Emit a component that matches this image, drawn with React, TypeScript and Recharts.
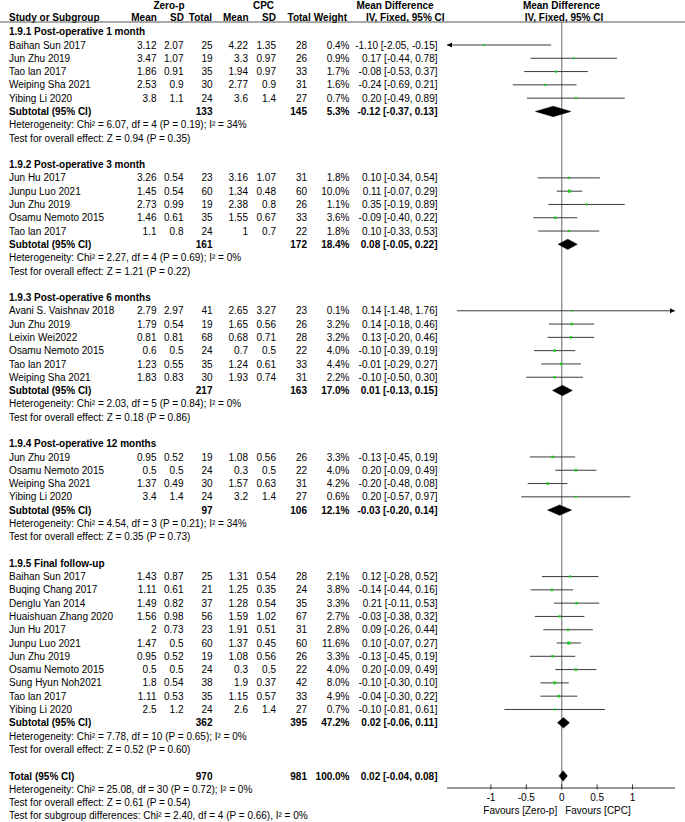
import React from "react";
import { ScatterChart, Scatter, XAxis, YAxis, ReferenceLine, ReferenceDot } from "recharts";

type Study = [string, number, number, number, number, number, number, number, number, number, number];
// [name, zero-p mean, zero-p SD, zero-p total, CPC mean, CPC SD, CPC total, weight %, MD, lower, upper]
type Summary = [number, number, number, number, number, number];
// [zero-p total, CPC total, weight %, MD, lower, upper]

const month1Studies: Study[] = [
  ["Baihan Sun 2017", 3.12, 2.07, 25, 4.22, 1.35, 28, 0.4, -1.1, -2.05, -0.15],
  ["Jun Zhu 2019", 3.47, 1.07, 19, 3.3, 0.97, 26, 0.9, 0.17, -0.44, 0.78],
  ["Tao lan 2017", 1.86, 0.91, 35, 1.94, 0.97, 33, 1.7, -0.08, -0.53, 0.37],
  ["Weiping Sha 2021", 2.53, 0.9, 30, 2.77, 0.9, 31, 1.6, -0.24, -0.69, 0.21],
  ["Yibing Li 2020", 3.8, 1.1, 24, 3.6, 1.4, 27, 0.7, 0.2, -0.49, 0.89],
];
const month1Subtotal: Summary = [133, 145, 5.3, -0.12, -0.37, 0.13];
const month1Notes = ["Heterogeneity: Chi\u00b2 = 6.07, df = 4 (P = 0.19); I\u00b2 = 34%", "Test for overall effect: Z = 0.94 (P = 0.35)"];

const month3Studies: Study[] = [
  ["Jun Hu 2017", 3.26, 0.54, 23, 3.16, 1.07, 31, 1.8, 0.1, -0.34, 0.54],
  ["Junpu Luo 2021", 1.45, 0.54, 60, 1.34, 0.48, 60, 10.0, 0.11, -0.07, 0.29],
  ["Jun Zhu 2019", 2.73, 0.99, 19, 2.38, 0.8, 26, 1.1, 0.35, -0.19, 0.89],
  ["Osamu Nemoto 2015", 1.46, 0.61, 35, 1.55, 0.67, 33, 3.6, -0.09, -0.4, 0.22],
  ["Tao lan 2017", 1.1, 0.8, 24, 1, 0.7, 22, 1.8, 0.1, -0.33, 0.53],
];
const month3Subtotal: Summary = [161, 172, 18.4, 0.08, -0.05, 0.22];
const month3Notes = ["Heterogeneity: Chi\u00b2 = 2.27, df = 4 (P = 0.69); I\u00b2 = 0%", "Test for overall effect: Z = 1.21 (P = 0.22)"];

const month6Studies: Study[] = [
  ["Avani S. Vaishnav 2018", 2.79, 2.97, 41, 2.65, 3.27, 23, 0.1, 0.14, -1.48, 1.76],
  ["Jun Zhu 2019", 1.79, 0.54, 19, 1.65, 0.56, 26, 3.2, 0.14, -0.18, 0.46],
  ["Leixin Wei2022", 0.81, 0.81, 68, 0.68, 0.71, 28, 3.2, 0.13, -0.2, 0.46],
  ["Osamu Nemoto 2015", 0.6, 0.5, 24, 0.7, 0.5, 22, 4.0, -0.1, -0.39, 0.19],
  ["Tao lan 2017", 1.23, 0.55, 35, 1.24, 0.61, 33, 4.4, -0.01, -0.29, 0.27],
  ["Weiping Sha 2021", 1.83, 0.83, 30, 1.93, 0.74, 31, 2.2, -0.1, -0.5, 0.3],
];
const month6Subtotal: Summary = [217, 163, 17.0, 0.01, -0.13, 0.15];
const month6Notes = ["Heterogeneity: Chi\u00b2 = 2.03, df = 5 (P = 0.84); I\u00b2 = 0%", "Test for overall effect: Z = 0.18 (P = 0.86)"];

const month12Studies: Study[] = [
  ["Jun Zhu 2019", 0.95, 0.52, 19, 1.08, 0.56, 26, 3.3, -0.13, -0.45, 0.19],
  ["Osamu Nemoto 2015", 0.5, 0.5, 24, 0.3, 0.5, 22, 4.0, 0.2, -0.09, 0.49],
  ["Weiping Sha 2021", 1.37, 0.49, 30, 1.57, 0.63, 31, 4.2, -0.2, -0.48, 0.08],
  ["Yibing Li 2020", 3.4, 1.4, 24, 3.2, 1.4, 27, 0.6, 0.2, -0.57, 0.97],
];
const month12Subtotal: Summary = [97, 106, 12.1, -0.03, -0.2, 0.14];
const month12Notes = ["Heterogeneity: Chi\u00b2 = 4.54, df = 3 (P = 0.21); I\u00b2 = 34%", "Test for overall effect: Z = 0.35 (P = 0.73)"];

const finalStudies: Study[] = [
  ["Baihan Sun 2017", 1.43, 0.87, 25, 1.31, 0.54, 28, 2.1, 0.12, -0.28, 0.52],
  ["Buqing Chang 2017", 1.11, 0.61, 21, 1.25, 0.35, 24, 3.8, -0.14, -0.44, 0.16],
  ["Denglu Yan 2014", 1.49, 0.82, 37, 1.28, 0.54, 35, 3.3, 0.21, -0.11, 0.53],
  ["Huaishuan Zhang 2020", 1.56, 0.98, 56, 1.59, 1.02, 67, 2.7, -0.03, -0.38, 0.32],
  ["Jun Hu 2017", 2, 0.73, 23, 1.91, 0.51, 31, 2.8, 0.09, -0.26, 0.44],
  ["Junpu Luo 2021", 1.47, 0.5, 60, 1.37, 0.45, 60, 11.6, 0.1, -0.07, 0.27],
  ["Jun Zhu 2019", 0.95, 0.52, 19, 1.08, 0.56, 26, 3.3, -0.13, -0.45, 0.19],
  ["Osamu Nemoto 2015", 0.5, 0.5, 24, 0.3, 0.5, 22, 4.0, 0.2, -0.09, 0.49],
  ["Sung Hyun Noh2021", 1.8, 0.54, 38, 1.9, 0.37, 42, 8.0, -0.1, -0.3, 0.1],
  ["Tao lan 2017", 1.11, 0.53, 35, 1.15, 0.57, 33, 4.9, -0.04, -0.3, 0.22],
  ["Yibing Li 2020", 2.5, 1.2, 24, 2.6, 1.4, 27, 0.7, -0.1, -0.81, 0.61],
];
const finalSubtotal: Summary = [362, 395, 47.2, 0.02, -0.06, 0.11];
const finalNotes = ["Heterogeneity: Chi\u00b2 = 7.78, df = 10 (P = 0.65); I\u00b2 = 0%", "Test for overall effect: Z = 0.52 (P = 0.60)"];

const groupTitles = [
  "1.9.1 Post-operative 1 month",
  "1.9.2 Post-operative 3 month",
  "1.9.3 Post-operative 6 months",
  "1.9.4 Post-operative 12 months",
  "1.9.5 Final follow-up",
];

const overallTotal: Summary = [970, 981, 100.0, 0.02, -0.04, 0.08];
const overallNotes = [
  "Heterogeneity: Chi\u00b2 = 25.08, df = 30 (P = 0.72); I\u00b2 = 0%",
  "Test for overall effect: Z = 0.61 (P = 0.54)",
  "Test for subgroup differences: Chi\u00b2 = 2.40, df = 4 (P = 0.66), I\u00b2 = 0%",
];

const xTicks = [-1, -0.5, 0, 0.5, 1];
const X_MIN = -1.62;
const X_MAX = 1.6;

// ---------- layout / style ----------
const W = 685;
const H = 822;
const FONT = "'Liberation Sans', Arial, Helvetica, sans-serif";
const FS = 10;
const COL = { study: 9, m1: 156.5, sd1: 183.5, n1: 212.5, m2: 248, sd2: 276, n2: 307, weight: 349.5, ci: 437.5 };
const GREEN = "#1ec81e";

const fmtCI = (md: number, lo: number, hi: number) => `${md.toFixed(2)} [${lo.toFixed(2)}, ${hi.toFixed(2)}]`;

type TextRow = { x: number; y: number; kind: string; label: string; cells?: (string | null)[] };

const groupsData: [string, Study[], Summary, string[]][] = [
  [groupTitles[0], month1Studies, month1Subtotal, month1Notes],
  [groupTitles[1], month3Studies, month3Subtotal, month3Notes],
  [groupTitles[2], month6Studies, month6Subtotal, month6Notes],
  [groupTitles[3], month12Studies, month12Subtotal, month12Notes],
  [groupTitles[4], finalStudies, finalSubtotal, finalNotes],
];

const textRows: TextRow[] = [];
const pointRows: { x: number; y: number; w: number }[] = [];
const ciRows: { y: number; lo: number; hi: number }[] = [];
const diamondRows: { y: number; lo: number; hi: number }[] = [];
const footerRows: { y: number; label: string }[] = [];

let r = 0;
for (const [title, studies, sub, notes] of groupsData) {
  textRows.push({ x: 0, y: r++, kind: "group", label: title });
  for (const s of studies) {
    textRows.push({
      x: 0,
      y: r,
      kind: "study",
      label: s[0],
      cells: [String(s[1]), String(s[2]), String(s[3]), String(s[4]), String(s[5]), String(s[6]), `${s[7].toFixed(1)}%`, fmtCI(s[8], s[9], s[10])],
    });
    pointRows.push({ x: s[8], y: r, w: s[7] });
    ciRows.push({ y: r, lo: s[9], hi: s[10] });
    r++;
  }
  textRows.push({
    x: 0,
    y: r,
    kind: "sum",
    label: "Subtotal (95% CI)",
    cells: [null, null, String(sub[0]), null, null, String(sub[1]), `${sub[2].toFixed(1)}%`, fmtCI(sub[3], sub[4], sub[5])],
  });
  diamondRows.push({ y: r, lo: sub[4], hi: sub[5] });
  r++;
  for (const n of notes) textRows.push({ x: 0, y: r++, kind: "note", label: n });
  r++;
}
textRows.push({
  x: 0,
  y: r,
  kind: "sum",
  label: "Total (95% CI)",
  cells: [null, null, String(overallTotal[0]), null, null, String(overallTotal[1]), `${overallTotal[2].toFixed(1)}%`, fmtCI(overallTotal[3], overallTotal[4], overallTotal[5])],
});
diamondRows.push({ y: r, lo: overallTotal[4], hi: overallTotal[5] });
r++;
for (const n of overallNotes) footerRows.push({ y: r++, label: n });

const COLX = [COL.m1, COL.sd1, COL.n1, COL.m2, COL.sd2, COL.n2, COL.weight, COL.ci];

const TableRowShape = (props: any) => {
  const { cy, payload } = props;
  const row: TextRow = payload;
  const by = cy + 3.6;
  const bold = row.kind === "group" || row.kind === "sum";
  return (
    <g fontFamily={FONT} fontSize={FS} fill="#000" fontWeight={bold ? "bold" : "normal"}>
      <text x={COL.study} y={by}>{row.label}</text>
      {row.cells
        ? row.cells.map((c, i) =>
            c == null ? null : (
              <text key={i} x={COLX[i]} y={by} textAnchor="end">
                {c}
              </text>
            )
          )
        : null}
    </g>
  );
};

const PointShape = (props: any) => {
  const { cx, cy, payload } = props;
  const s = 1.6 + 0.45 * Math.sqrt(payload.w);
  return <rect x={cx - s / 2} y={cy - s / 2} width={s} height={s} fill={GREEN} />;
};

const clampX = (v: number) => Math.max(X_MIN, Math.min(X_MAX, v));

const makeCIShape = (lo: number, hi: number) => (p: any) => {
  const { x1, x2, y1 } = p;
  const left = lo < X_MIN;
  const right = hi > X_MAX;
  return (
    <g>
      <line x1={x1} x2={x2} y1={y1} y2={y1} stroke="#3a3a3a" strokeWidth={1} />
      {left ? <polygon points={`${x1},${y1} ${x1 + 5},${y1 - 2.5} ${x1 + 5},${y1 + 2.5}`} fill="#000" /> : null}
      {right ? <polygon points={`${x2},${y1} ${x2 - 5},${y1 - 2.5} ${x2 - 5},${y1 + 2.5}`} fill="#000" /> : null}
    </g>
  );
};

const DiamondShape = (p: any) => {
  const { x1, x2, y1 } = p;
  const mx = (x1 + x2) / 2;
  const h = 5.2;
  return <polygon points={`${x1},${y1} ${mx},${y1 - h} ${x2},${y1} ${mx},${y1 + h}`} fill="#000" stroke="#000" strokeWidth={0.5} />;
};

const AxisTick = (props: any) => {
  const { x, y, payload } = props;
  const v = payload.value;
  return (
    <g fontFamily={FONT} fontSize={FS} fill="#000">
      <line x1={x} x2={x} y1={y - 3.5} y2={y + 1.5} stroke="#333" strokeWidth={1} />
      <text x={x} y={y + 12.5} textAnchor="middle" fill="#000">
        {String(v)}
      </text>
      {v === 0 ? (
        <>
          <text x={x - 4.5} y={y + 25.5} textAnchor="end" fill="#000">
            Favours [Zero-p]
          </text>
          <text x={x + 3.5} y={y + 25.5} textAnchor="start" fill="#000">
            Favours [CPC]
          </text>
        </>
      ) : null}
    </g>
  );
};

const Header = () => (
  <svg width={W} height={30} style={{ position: "absolute", left: 0, top: 0, pointerEvents: "none" }}>
    <g fontFamily={FONT} fontSize={FS} fontWeight="bold" fill="#000">
      <text x={169} y={8.6} textAnchor="middle">Zero-p</text>
      <text x={263.5} y={8.6} textAnchor="middle">CPC</text>
      <text x={395} y={8.6} textAnchor="middle">Mean Difference</text>
      <text x={561.5} y={8.6} textAnchor="middle">Mean Difference</text>
      <text x={COL.study} y={20.6}>Study or Subgroup</text>
      <text x={156.8} y={20.6} textAnchor="end">Mean</text>
      <text x={184} y={20.6} textAnchor="end">SD</text>
      <text x={212} y={20.6} textAnchor="end">Total</text>
      <text x={248.5} y={20.6} textAnchor="end">Mean</text>
      <text x={276} y={20.6} textAnchor="end">SD</text>
      <text x={310.7} y={20.6} textAnchor="end">Total</text>
      <text x={347} y={20.6} textAnchor="end">Weight</text>
      <text x={405.3} y={20.6} textAnchor="middle">IV, Fixed, 95% CI</text>
      <text x={564} y={20.6} textAnchor="middle">IV, Fixed, 95% CI</text>
    </g>
    <line x1={0} x2={W} y1={22} y2={22} stroke="#555" strokeWidth={1} />
  </svg>
);

export default function App() {
  return (
    <div style={{ position: "absolute", left: 0, top: 0, width: W, height: H, background: "#fff" }}>
      <ScatterChart width={W} height={H} margin={{ top: 22, right: 10, bottom: 0, left: 447 }}>
        <XAxis
          type="number"
          dataKey="x"
          domain={[X_MIN, X_MAX]}
          ticks={xTicks}
          height={34}
          axisLine={{ stroke: "#333", strokeWidth: 1 }}
          tickLine={false}
          tickSize={0}
          tickMargin={0}
          tick={<AxisTick />}
          interval={0}
        />
        <YAxis type="number" dataKey="y" domain={[-0.73, 56.91]} reversed hide width={0} />
        <ReferenceLine x={0} stroke="#8c8c8c" strokeWidth={1.3} />
        {ciRows.map((c, i) => (
          <ReferenceLine
            key={`ci${i}`}
            segment={[
              { x: clampX(c.lo), y: c.y },
              { x: clampX(c.hi), y: c.y },
            ]}
            ifOverflow="visible"
            shape={makeCIShape(c.lo, c.hi)}
          />
        ))}
        {diamondRows.map((d, i) => (
          <ReferenceLine
            key={`dm${i}`}
            segment={[
              { x: d.lo, y: d.y },
              { x: d.hi, y: d.y },
            ]}
            ifOverflow="visible"
            shape={DiamondShape}
          />
        ))}
        <Scatter data={textRows} shape={TableRowShape} isAnimationActive={false} />
        <Scatter data={pointRows} shape={PointShape} isAnimationActive={false} />
        {footerRows.map((f, i) => (
          <ReferenceDot
            key={`ft${i}`}
            x={0}
            y={f.y}
            ifOverflow="visible"
            shape={(p: any) => (
              <text x={COL.study} y={p.cy + 3.6} fontFamily={FONT} fontSize={FS} fill="#000">
                {f.label}
              </text>
            )}
          />
        ))}
      </ScatterChart>
      <Header />
    </div>
  );
}
